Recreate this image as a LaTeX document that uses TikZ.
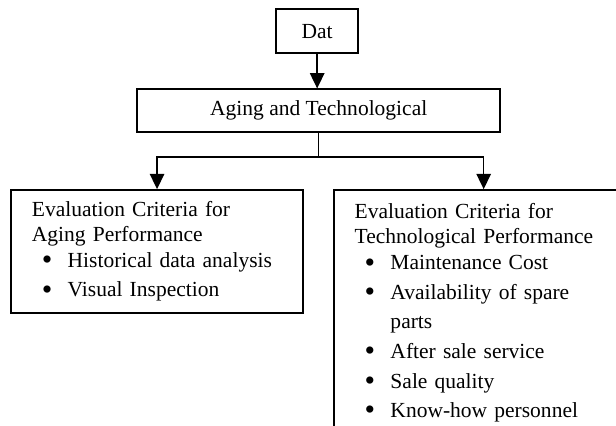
\documentclass[tikz,border=0pt]{standalone}
\usepackage{fontspec}
\setmainfont{Liberation Serif}
\usetikzlibrary{positioning,calc,arrows.meta}

\newcommand{\critem}[1]{\hspace*{5.6pt}\makebox[14.4pt][l]{\raisebox{-1.3pt}{\scalebox{1.4}{\textbullet}}}#1}
\newcommand{\critemcont}[1]{\hspace*{20pt}#1}

\begin{document}
\begin{tikzpicture}[
                block/.style={draw,line width=0.85pt,font=\fontsize{12}{14}\selectfont,inner sep=0pt},
                criteria/.style={block,anchor=north west,align=left,inner xsep=0.41cm,inner ysep=0pt},
                flow/.style={line width=0.85pt,-{Triangle[width=8pt,length=8.5pt]}}
            ]
                \clip (0,0) rectangle (12.08,-8.35);
                \node[block,minimum width=1.61cm,minimum height=0.86cm] (dat) at (6.22,-0.61) {Dat};
                \node[block,minimum width=7.12cm,minimum height=0.84cm] (aging) at (6.25,-2.17) {Aging and Technological};
                \node[criteria,text width=4.91cm,minimum height=2.41cm] (agecrit) at (0.20,-3.71)
                    {Evaluation Criteria for\\ Aging Performance\\[0.5pt]
                     \critem{Historical data analysis}\\[2.5pt]
                     \critem{Visual Inspection}};
                \node[criteria,text width=5.06cm,minimum height=4.82cm] (techcrit) at (6.53,-3.71)
                    {Evaluation Criteria for\\ Technological Performance\\[0.5pt]
                     \critem{Maintenance Cost}\\[2.5pt]
                     \critem{Availability of spare}\\[2.5pt]
                     \critemcont{parts}\\[2.5pt]
                     \critem{After sale service}\\[2.5pt]
                     \critem{Sale quality}\\[2.5pt]
                     \critem{Know-how personnel}};
                \coordinate (fork) at ($(aging.south)+(0,-0.47)$);
                \draw[flow] (dat.south) -- (dat.south |- aging.north);
                \draw[line width=0.85pt] (aging.south) -- (fork);
                \draw[flow] (fork) -| (agecrit.north);
                \draw[flow] (fork) -| (techcrit.north);
            \end{tikzpicture}
\end{document}
